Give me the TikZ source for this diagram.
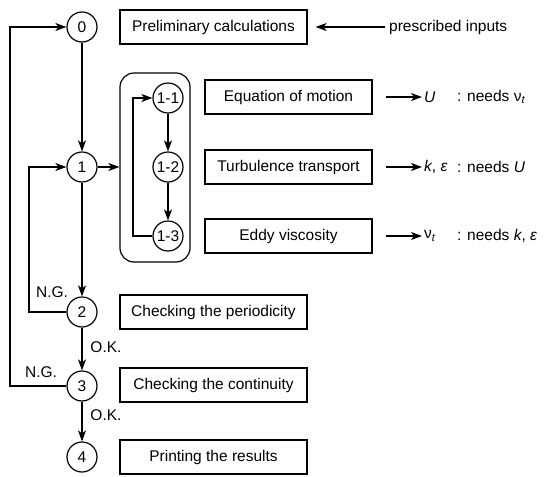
\documentclass[tikz,border=0pt]{standalone}
\usepackage{fontspec}
\setmainfont{Liberation Sans}
\usetikzlibrary{arrows.meta}

\tikzset{
  stage/.style={circle, draw, line width=1.2pt, minimum size=30pt, inner sep=0pt},
  task/.style={rectangle, draw, line width=1.2pt, minimum height=34pt, text centered},
  arrow/.style={->, line width=1.2pt, >={Stealth[length=11pt, width=8pt, inset=3pt]}},
}

\begin{document}
\begin{tikzpicture}[x=1pt, y=-1pt, font=\fontsize{15.5}{18}\selectfont]
  \useasboundingbox (0,0) rectangle (550,477);

  % Hauptablauf (linke Spalte)
  \node[stage] (s0) at (82, 27)  {0};
  \node[stage] (s1) at (82, 167) {1};
  \node[stage] (s2) at (82, 312) {2};
  \node[stage] (s3) at (82, 386) {3};
  \node[stage] (s4) at (82, 457) {4};

  % innere Schleife
  \node[stage] (s11) at (168, 98)  {1-1};
  \node[stage] (s12) at (168, 167) {1-2};
  \node[stage] (s13) at (168, 236) {1-3};
  \node[draw, line width=1.2pt, rounded corners=14pt, minimum width=70pt, minimum height=189pt] (loop) at (155, 167.5) {};

  % Aufgaben
  \node[task, minimum width=187pt] (prelim) at (213.5, 27)  {Preliminary calculations};
  \node[task, minimum width=167pt] (motion) at (288.5, 97)  {Equation of motion};
  \node[task, minimum width=167pt] (turb)   at (288.5, 167) {Turbulence transport};
  \node[task, minimum width=167pt] (eddy)   at (288.5, 236) {Eddy viscosity};
  \node[task, minimum width=187pt] (period) at (213.5, 312) {Checking the periodicity};
  \node[task, minimum width=187pt] (contin) at (213.5, 385) {Checking the continuity};
  \node[task, minimum width=187pt] (result) at (213.5, 457) {Printing the results};

  % Ein- und Ausgaben
  \node[anchor=west, inner sep=4pt] (inputs) at (385, 27) {prescribed inputs};
  \node[anchor=west, inner sep=2pt] (outU)   at (422, 97)  {\textit{U}};
  \node[anchor=west, inner sep=2pt] (outK)   at (422, 167) {\textit{k}, \textit{ε}};
  \node[anchor=west, inner sep=2pt] (outNu)  at (422, 236) {ν\textsubscript{\textit{t}}};
  \node[anchor=west, inner sep=2pt] (needU)  at (455, 97)  {: needs ν\textsubscript{\textit{t}}};
  \node[anchor=west, inner sep=2pt] (needK)  at (455, 167) {: needs \textit{U}};
  \node[anchor=west, inner sep=2pt] (needNu) at (455, 236) {: needs \textit{k}, \textit{ε}};

  % Beschriftungen
  \node (ng2) at (52, 292)  {N.G.};
  \node (ng3) at (41, 372)  {N.G.};
  \node (ok2) at (106, 347) {O.K.};
  \node (ok3) at (106, 415) {O.K.};

  \coordinate (back) at (133, 0);
  \coordinate (ngin) at (29, 0);
  \coordinate (ngout) at (10, 0);

  % Verbindungen
  \draw[arrow] (s0) -- (s1);
  \draw[arrow] (s1) -- (s2);
  \draw[arrow] (s2) -- (s3);
  \draw[arrow] (s3) -- (s4);
  \draw[arrow] (s1) -- (loop.west |- s1);
  \draw[arrow] (s11) -- (s12);
  \draw[arrow] (s12) -- (s13);
  \draw[arrow] (s13.west) -- (s13.west -| back) |- (s11.west);
  \draw[arrow] (s2.west) -- (s2.west -| ngin) |- (s1.west);
  \draw[arrow] (s3.west) -- (s3.west -| ngout) |- (s0.west);
  \draw[arrow] (inputs.west) -- ([xshift=8pt]prelim.east);
  \draw[arrow] ([xshift=13pt]motion.east) -- (outU.west);
  \draw[arrow] ([xshift=13pt]turb.east) -- (outK.west);
  \draw[arrow] ([xshift=13pt]eddy.east) -- (outNu.west);
\end{tikzpicture}
\end{document}
